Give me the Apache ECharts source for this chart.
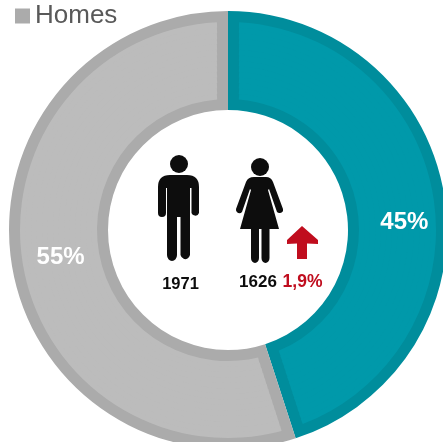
<!DOCTYPE html>
<html><head><meta charset="utf-8">
<style>html,body{margin:0;padding:0;background:#fff}#c{width:443px;height:442px}</style>
<script src="https://cdn.jsdelivr.net/npm/echarts@6/dist/echarts.min.js"></script>
</head><body><div id="c"></div>
<script>
const names = ['Dones', 'Homes'];
const shares = [45, 55];
const shareLabels = ['45%', '55%'];
const edgeColors = ['#008d9c', '#ababab'];
const fillColors = ['#0099aa', '#bcbcbc'];
const legendItems = ['Homes'];
const menCount = '1971';
const womenCount = '1626';
const changeLabel = '1,9%';

const center = [228, 230];
const inner = 120, outer = 219, rim = 11;
const slices = colors => names.map((n, i) => ({name: n, value: shares[i], itemStyle: {color: colors[i]}}));
const base = {type: 'pie', center, startAngle: 90, clockwise: true, silent: true, animation: false,
  label: {show: false}, labelLine: {show: false}, emphasis: {disabled: true}};

const series = [Object.assign({}, base, {radius: [inner, outer], data: slices(edgeColors)})];
// Lighter fill inset from the rim: stacked thin bands keep the side edges parallel to the slice boundary.
const bands = 14, bandW = (outer - inner - 2 * rim) / bands;
for (let b = 0; b < bands; b++) {
  const r0 = inner + rim + b * bandW, r1 = r0 + bandW + (b < bands - 1 ? 0.8 : 0);
  const mid = r0 + bandW / 2;
  series.push(Object.assign({}, base, {radius: [r0, r1], padAngle: 2 * rim / mid * 180 / Math.PI, data: slices(fillColors)}));
}
const labelOffsets = [[6, 19], [3, 0]];
series.push(Object.assign({}, base, {radius: [inner, outer], z: 5,
  data: names.map((n, i) => ({name: n, value: shares[i], itemStyle: {color: 'transparent'},
    label: {show: true, position: 'inside', formatter: shareLabels[i], offset: labelOffsets[i],
      color: '#fff', fontFamily: 'Liberation Sans', fontWeight: 'bold', fontSize: 24}}))}));

const man = 'M170 175 L187 175 Q199 175 199 187 L199 213 A4 4 0 0 1 191.500 213 L191.500 188 L190 188 L190 255 A5 6 0 0 1 180.500 255 L180.500 217 L177 217 L177 255 A5 6 0 0 1 167 255 L167 188 L166 188 L166 213 A4 4 0 0 1 158 213 L158 187 Q158 175 170 175 Z';
const woman = 'M254 177 L266 177 Q271 177 273 182 L283 209 A3.500 3.500 0 0 1 277 212 L269 189 L268 190 L279 229 L269.500 229 L269.500 258 A4 5 0 0 1 261.500 258 L261.500 229 L259 229 L259 258 A4 5 0 0 1 251 258 L251 229 L240 229 L251 190 L250 189 L242 212 A3.500 3.500 0 0 1 236 209 L246 182 Q248 177 254 177 Z';
const arrow = 'M302 226 L318 240 L318 244 L307 243.500 L307 259 L297 259 L297 243.500 L287 244 L287 240 Z';
echarts.graphic.registerShape('manFigure', echarts.graphic.extendPath(man));
echarts.graphic.registerShape('womanFigure', echarts.graphic.extendPath(woman));
echarts.graphic.registerShape('upArrow', echarts.graphic.extendPath(arrow));
const txt = (x, y, t, color, size) => ({type: 'text', x, y, silent: true,
  style: {text: t, fill: color, font: 'bold ' + size + 'px "Liberation Sans"', textAlign: 'center', textVerticalAlign: 'middle'}});

const chart = echarts.init(document.getElementById('c'), null, {renderer: 'canvas'});
chart.setOption({
  animation: false,
  backgroundColor: '#fff',
  legend: {data: legendItems, left: 15, top: 3, padding: 0, itemWidth: 15, itemHeight: 15, itemGap: 4, silent: true, selectedMode: false,
    icon: 'rect', textStyle: {fontFamily: 'Liberation Sans', fontSize: 26, color: '#595959'}},
  series,
  graphic: [
    {type: 'circle', shape: {cx: 179, cy: 164, r: 9}, style: {fill: '#0d0d0d'}, silent: true},
    {type: 'circle', shape: {cx: 260, cy: 167, r: 9}, style: {fill: '#0d0d0d'}, silent: true},
    {type: 'manFigure', style: {fill: '#0d0d0d'}, silent: true},
    {type: 'womanFigure', style: {fill: '#0d0d0d'}, silent: true},
    {type: 'upArrow', style: {fill: '#c00d1e'}, silent: true},
    txt(180.5, 284, menCount, '#0d0d0d', 16.5),
    txt(258, 282, womenCount, '#0d0d0d', 17),
    txt(302.5, 282, changeLabel, '#c00d1e', 17.5)
  ]
});
</script></body></html>
